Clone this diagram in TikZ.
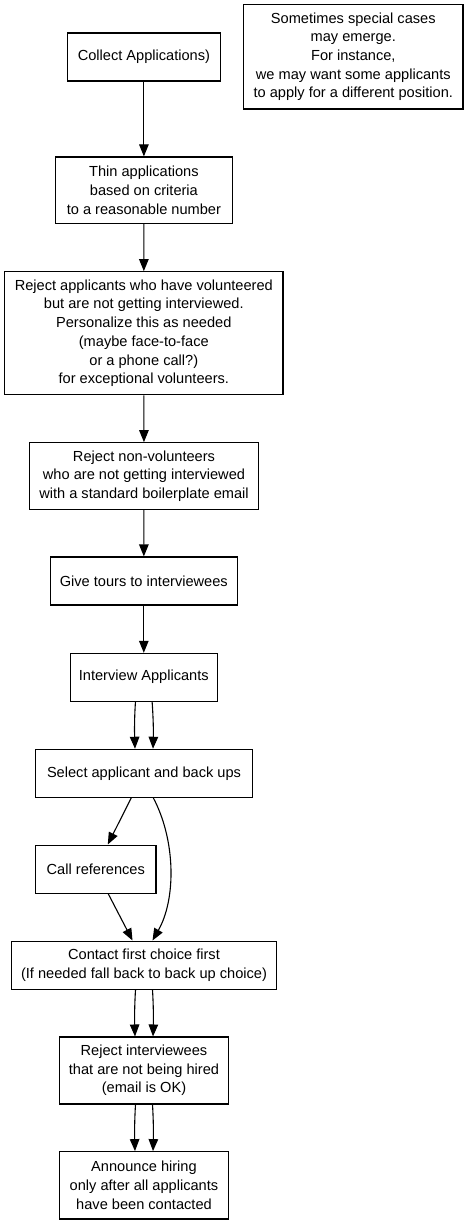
\documentclass[tikz,border=0pt]{standalone}
\usepackage{fontspec}
\setmainfont{Liberation Sans}
\usetikzlibrary{arrows.meta}
\begin{document}
\begin{tikzpicture}[x=1pt,y=-1pt,
  box/.style={draw, line width=1.1pt, inner sep=0pt, align=center, font=\fontsize{14.6}{18.7}\selectfont},
  edge/.style={line width=1.1pt, -{Triangle[length=12pt,width=9.5pt]}}]
\useasboundingbox (0,0) rectangle (468,1224);
\node[box, minimum width=152.3pt, minimum height=48pt] (collect) at (143.9,57) {Collect Applications)};
\node[box, minimum width=219.3pt, minimum height=104.3pt] (note) at (353.3,56.8) {Sometimes special cases\\may emerge.\\For instance,\\we may want some applicants\\to apply for a different position.};
\node[box, minimum width=176.3pt, minimum height=66.7pt] (thin) at (143.9,190.3) {Thin applications\\based on criteria\\to a reasonable number};
\node[box, minimum width=278.3pt, minimum height=123pt] (rej1) at (143.8,333.2) {Reject applicants who have volunteered\\but are not getting interviewed.\\Personalize this as needed\\(maybe face-to-face\\or a phone call?)\\for exceptional volunteers.};
\node[box, minimum width=229.4pt, minimum height=66.6pt] (rej2) at (144,476) {Reject non-volunteers\\who are not getting interviewed\\with a standard boilerplate email};
\node[box, minimum width=187pt, minimum height=48pt] (tours) at (143.8,581) {Give tours to interviewees};
\node[box, minimum width=147pt, minimum height=47.7pt] (interview) at (143.8,677.2) {Interview Applicants};
\node[box, minimum width=216.6pt, minimum height=48pt] (select) at (144,773.3) {Select applicant and back ups};
\node[box, minimum width=120.3pt, minimum height=48.3pt] (call) at (95.8,869.2) {Call references};
\node[box, minimum width=264.6pt, minimum height=48.3pt] (contact) at (144,965.2) {Contact first choice first\\(If needed fall back to back up choice)};
\node[box, minimum width=168.6pt, minimum height=67pt] (rej3) at (144,1070.5) {Reject interviewees\\that are not being hired\\(email is OK)};
\node[box, minimum width=168.6pt, minimum height=67.3pt] (announce) at (144,1185.3) {Announce hiring\\only after all applicants\\have been contacted};

\draw[edge] (collect) -- (thin);
\draw[edge] (thin) -- (rej1);
\draw[edge] (rej1) -- (rej2);
\draw[edge] (rej2) -- (tours);
\draw[edge] (tours) -- (interview);

\draw[edge] ([xshift=-8.3pt]interview.south) .. controls ([xshift=-9.5pt,yshift=-16pt]interview.south) and ([xshift=-9.5pt,yshift=16pt]select.north) .. ([xshift=-9pt]select.north);
\draw[edge] ([xshift=8.3pt]interview.south) .. controls ([xshift=9.5pt,yshift=-16pt]interview.south) and ([xshift=9.5pt,yshift=16pt]select.north) .. ([xshift=9pt]select.north);

\draw[edge] ([xshift=-12.7pt]select.south) -- ([xshift=12pt]call.north);
\draw[edge] ([xshift=9.3pt]select.south) .. controls ([xshift=32pt,yshift=-43pt]select.south) and ([xshift=32pt,yshift=41pt]contact.north) .. ([xshift=8.5pt]contact.north);
\draw[edge] ([xshift=12.5pt]call.south) -- ([xshift=-11.5pt]contact.north);

\draw[edge] ([xshift=-8.5pt]contact.south) .. controls ([xshift=-9.5pt,yshift=-16pt]contact.south) and ([xshift=-9.5pt,yshift=16pt]rej3.north) .. ([xshift=-9pt]rej3.north);
\draw[edge] ([xshift=8.5pt]contact.south) .. controls ([xshift=9.5pt,yshift=-16pt]contact.south) and ([xshift=9.5pt,yshift=16pt]rej3.north) .. ([xshift=9pt]rej3.north);

\draw[edge] ([xshift=-8.5pt]rej3.south) .. controls ([xshift=-9.5pt,yshift=-16pt]rej3.south) and ([xshift=-9.5pt,yshift=16pt]announce.north) .. ([xshift=-9pt]announce.north);
\draw[edge] ([xshift=8.5pt]rej3.south) .. controls ([xshift=9.5pt,yshift=-16pt]rej3.south) and ([xshift=9.5pt,yshift=16pt]announce.north) .. ([xshift=9pt]announce.north);
\end{tikzpicture}
\end{document}
